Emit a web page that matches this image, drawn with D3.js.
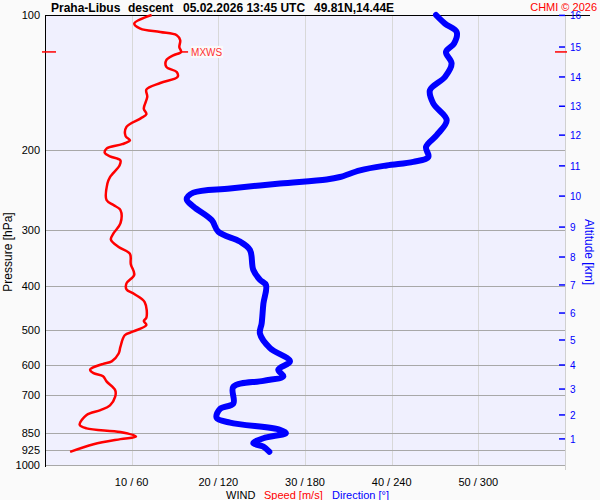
<!DOCTYPE html>
<html>
<head>
<meta charset="utf-8">
<script src="https://cdn.jsdelivr.net/npm/d3@7"></script>
<style>
  body { margin: 0; background: #fafafa; }
  svg { display: block; font-family: "Liberation Sans", Arial, sans-serif; }
</style>
</head>
<body>
<div id="grafo"></div>
<script>
// rychlost vetru (m/s) podle tlaku (hPa)
const tlakRychlost = [100, 104.5, 107.2, 109.1, 110.9, 113.8, 117.8, 120.8, 122.9, 126.0, 130.4, 133.9, 137.3, 141.6, 146.4, 152.1, 161.4, 166.2, 169.9, 177.3, 185.9, 189.8, 193.7, 198.1, 202.6, 206.1, 210.4, 215.9, 229.1, 236.9, 257.8, 264.4, 271.3, 290.6, 305.8, 315.4, 327.8, 339.4, 357.9, 377.6, 394.9, 407, 416.8, 434.4, 470.4, 478.5, 488.6, 505, 514.8, 546.6, 565.2, 588.5, 596, 609, 614, 625, 635, 652, 682, 705, 737, 755, 774, 814, 829, 845, 865, 876, 899, 935];
const rychlost = [12.3, 10.3, 11.0, 13.3, 15.2, 15.6, 15.5, 15.7, 14.8, 14.0, 14.0, 15.2, 15.3, 13.3, 11.7, 11.8, 11.4, 11.7, 11.0, 9.4, 9.3, 9.8, 8.9, 7.1, 6.9, 7.5, 8.7, 8.6, 7.5, 7.2, 7.1, 7.9, 8.7, 8.7, 7.9, 7.6, 8.5, 9.8, 9.9, 10.3, 9.4, 9.4, 10.3, 11.5, 11.7, 11.4, 11.7, 10.2, 9.2, 8.7, 8.5, 7.7, 6.7, 5.4, 5.2, 5.6, 6.7, 7.1, 8.1, 8.1, 7.5, 6.4, 4.8, 4.0, 4.8, 8.7, 10.5, 8.7, 5.6, 2.9];

// smer vetru (stupne) podle tlaku (hPa)
const tlakSmer = [100, 104.5, 109.1, 115.7, 120.8, 128.2, 137.3, 146.9, 157.3, 171.3, 184.9, 196.3, 206.8, 212.0, 215.9, 221.4, 229.1, 232.0, 236.9, 242.9, 248.2, 256.6, 266.4, 285.6, 303.2, 318.8, 332.7, 368.5, 387.7, 398.3, 438.0, 484.4, 510.3, 549.9, 588.5, 614, 635, 650, 670, 730, 750, 785, 805, 835, 849, 872, 895, 910, 935];
const smer = [270.7, 276.9, 285.0, 283.2, 277.6, 281.5, 276.9, 266.5, 268.8, 278.1, 271.2, 263.8, 265.4, 255.0, 236.5, 218.1, 204.2, 195.0, 162.7, 128.1, 102.7, 98.1, 102.7, 115.4, 120.0, 135.0, 141.9, 144.2, 148.8, 153.0, 151.2, 150.0, 148.8, 155.8, 169.6, 161.5, 165.0, 151.2, 130.4, 130.4, 121.2, 118.8, 128.1, 162.7, 166.8, 151.2, 144.2, 151.2, 155.3];

// osy
const tlakTicks = [100, 200, 300, 400, 500, 600, 700, 850, 925, 1000];
const rychlostTicks = [10, 20, 30, 40, 50];
const smerTicks = [60, 120, 180, 240, 300];
const vyskaKm = [1, 2, 3, 4, 5, 6, 7, 8, 9, 10, 11, 12, 13, 14, 15, 16];
const vyskaTlak = [875, 774, 678, 599.5, 527.5, 459.5, 398, 345, 296, 252.6, 216.4, 184.9, 159.5, 137.3, 117.8, 100.2];

function grafo() {
    const width = 600, height = 500;
    const left = 45, right = 565, top = 15, bottom = 465;

    const svg = d3.select("#grafo").append("svg")
        .attr("width", width)
        .attr("height", height);

    const y = d3.scaleLog().domain([100, 1000]).range([top, bottom]);
    const xS = d3.scaleLinear().domain([0, 60]).range([left, right]);
    const xD = d3.scaleLinear().domain([0, 360]).range([left, right]);

    svg.append("rect")
        .attr("x", left).attr("y", top)
        .attr("width", right - left).attr("height", bottom - top)
        .attr("fill", "#f0f0fe");

    // svisle mrizky
    svg.append("g").selectAll("line")
        .data(rychlostTicks)
        .enter().append("line")
        .attr("x1", d => Math.round(xS(d)) + 0.5).attr("x2", d => Math.round(xS(d)) + 0.5)
        .attr("y1", top).attr("y2", bottom)
        .attr("stroke", "#d8d8d8").attr("stroke-width", 1);

    svg.append("line")
        .attr("x1", right + 0.5).attr("x2", right + 0.5)
        .attr("y1", top).attr("y2", bottom + 5)
        .attr("stroke", "#d0d0d0");

    // vodorovne mrizky
    svg.append("g").selectAll("line")
        .data(tlakTicks.slice(1))
        .enter().append("line")
        .attr("x1", left).attr("x2", right)
        .attr("y1", d => Math.round(y(d)) + 0.5).attr("y2", d => Math.round(y(d)) + 0.5)
        .attr("stroke", "#a8a8a8").attr("stroke-width", 1);

    svg.append("line")
        .attr("x1", left).attr("x2", 590)
        .attr("y1", top + 0.5).attr("y2", top + 0.5)
        .attr("stroke", "#000");
    svg.append("line")
        .attr("x1", left + 0.5).attr("x2", left + 0.5)
        .attr("y1", top).attr("y2", bottom + 2)
        .attr("stroke", "#000");

    svg.append("g").selectAll("text")
        .data(tlakTicks)
        .enter().append("text")
        .attr("x", 40).attr("y", d => y(d) + 4)
        .attr("text-anchor", "end")
        .attr("font-size", 11)
        .text(d => d);

    svg.append("g").selectAll("text")
        .data(rychlostTicks)
        .enter().append("text")
        .attr("x", d => xS(d)).attr("y", 486)
        .attr("text-anchor", "middle")
        .attr("font-size", 11)
        .text((d, i) => d + " / " + smerTicks[i]);

    // prava osa - vyska
    const vyska = svg.append("g");
    vyska.selectAll("line")
        .data(vyskaTlak)
        .enter().append("line")
        .attr("x1", 559).attr("x2", 565)
        .attr("y1", d => y(d)).attr("y2", d => y(d))
        .attr("stroke", "#0000ff").attr("stroke-width", 1.5);
    vyska.selectAll("text")
        .data(vyskaTlak)
        .enter().append("text")
        .attr("x", 570).attr("y", d => y(d) + 4)
        .attr("font-size", 10)
        .attr("fill", "#0000ff")
        .text((d, i) => vyskaKm[i]);

    svg.append("text")
        .attr("transform", "translate(585,252) rotate(90)")
        .attr("text-anchor", "middle")
        .attr("font-size", 12)
        .attr("fill", "#0000ff")
        .text("Altitude [km]");

    svg.append("text")
        .attr("transform", "translate(12,252) rotate(-90)")
        .attr("text-anchor", "middle")
        .attr("font-size", 12)
        .text("Pressure [hPa]");

    // titulky
    const titulek = [["Praha-Libus", 51], ["descent", 128], ["05.02.2026 13:45 UTC", 183], ["49.81N,14.44E", 314]];
    svg.append("g").selectAll("text")
        .data(titulek)
        .enter().append("text")
        .attr("x", d => d[1]).attr("y", 12)
        .attr("font-size", 12).attr("font-weight", "bold")
        .text(d => d[0]);

    svg.append("text")
        .attr("x", 597).attr("y", 11)
        .attr("text-anchor", "end")
        .attr("font-size", 11)
        .attr("fill", "#ff0000")
        .text("CHMI © 2026");

    const popisek = svg.append("text").attr("y", 499).attr("font-size", 11);
    popisek.append("tspan").attr("x", 226).text("WIND");
    popisek.append("tspan").attr("x", 264).attr("fill", "#ff0000").text("Speed [m/s]");
    popisek.append("tspan").attr("x", 332).attr("fill", "#0000ff").text("Direction [°]");

    // krivky
    const lineS = d3.line()
        .x((d, i) => xS(rychlost[i]))
        .y(d => y(d))
        .curve(d3.curveCatmullRom);
    const lineD = d3.line()
        .x((d, i) => xD(smer[i]))
        .y(d => y(d))
        .curve(d3.curveCatmullRom);

    svg.append("path")
        .attr("d", lineD(tlakSmer))
        .attr("fill", "none")
        .attr("stroke", "#0000ff")
        .attr("stroke-width", 6)
        .attr("stroke-linecap", "round")
        .attr("stroke-linejoin", "round");

    svg.append("path")
        .attr("d", lineS(tlakRychlost))
        .attr("fill", "none")
        .attr("stroke", "#ff0000")
        .attr("stroke-width", 2.5)
        .attr("stroke-linejoin", "round");

    // maximalni vitr
    const iMax = d3.maxIndex(rychlost);
    const yMax = y(tlakRychlost[iMax]);
    const xMax = xS(rychlost[iMax]);
    svg.append("line")
        .attr("x1", 42).attr("x2", 56).attr("y1", yMax).attr("y2", yMax)
        .attr("stroke", "#ff0000").attr("stroke-width", 1.5);
    svg.append("line")
        .attr("x1", 555).attr("x2", 567).attr("y1", yMax).attr("y2", yMax)
        .attr("stroke", "#ff0000").attr("stroke-width", 1.5);
    svg.append("line")
        .attr("x1", xMax).attr("x2", xMax + 7).attr("y1", yMax).attr("y2", yMax)
        .attr("stroke", "#ff0000").attr("stroke-width", 1.5);
    svg.append("rect")
        .attr("x", xMax + 10).attr("y", yMax - 6)
        .attr("width", 32).attr("height", 12)
        .attr("fill", "#fafafa");
    svg.append("text")
        .attr("x", xMax + 10).attr("y", yMax + 4)
        .attr("font-size", 10)
        .attr("fill", "#ff3030")
        .text("MXWS");
}

grafo();
</script>
</body>
</html>
